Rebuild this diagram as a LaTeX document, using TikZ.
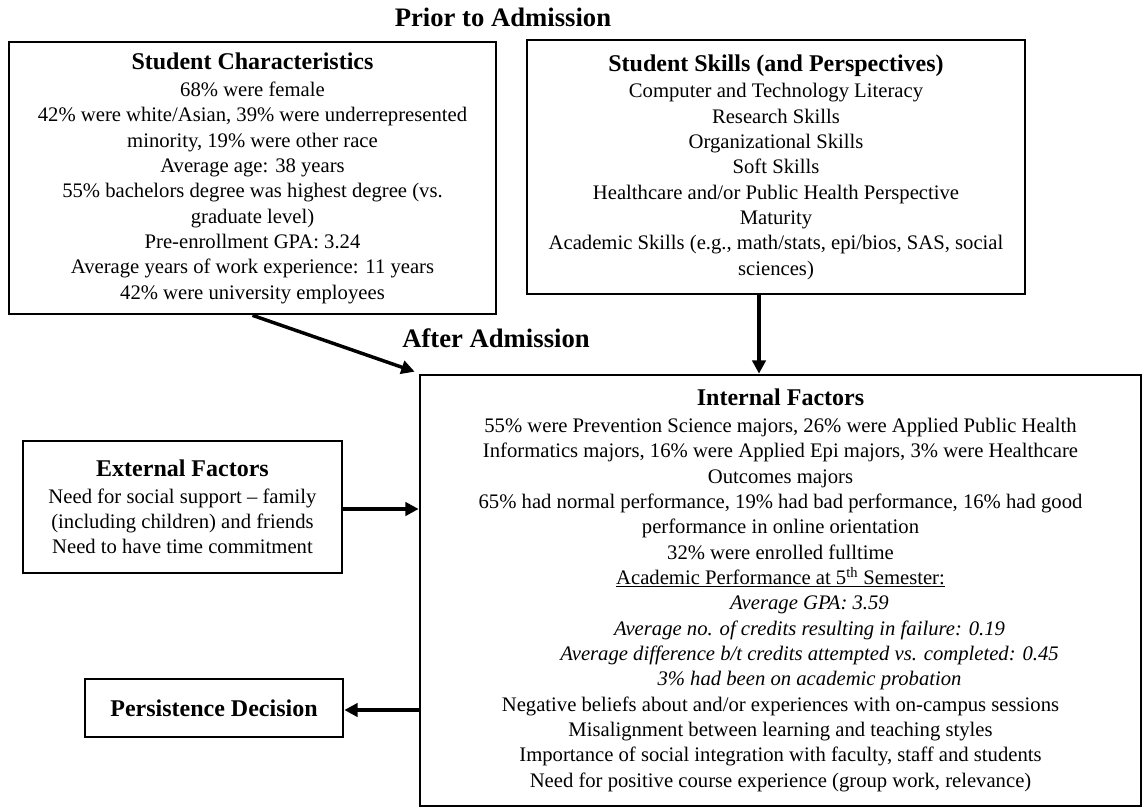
\documentclass[tikz,border=0pt]{standalone}
\usepackage{fontspec}
\setmainfont{Liberation Serif}
\usetikzlibrary{arrows.meta,calc}

\newcommand{\bodyfont}{\fontsize{15.5}{19}\selectfont}
\newcommand{\headfont}{\fontsize{18}{21}\selectfont\bfseries}
\newcommand{\phasefont}{\fontsize{20}{24}\selectfont\bfseries}
\newcommand{\ind}{\hspace*{43.5pt}}

\begin{document}
\begin{tikzpicture}[x=0.75pt,y=-0.75pt,
  box/.style={draw=black,line width=2pt,fill=white,align=center,
    font=\bodyfont,inner sep=0pt},
  phase/.style={font=\phasefont,inner sep=0pt},
  flow/.style={line width=2.6pt,-{Triangle[length=10pt,width=10pt]}}]

\useasboundingbox[fill=white] (0,0) rectangle (1144,809);

% phase headings
\node[phase] (prior) at (503,17) {Prior to Admission};
\node[phase] (after) at (496,338) {After Admission};

% boxes before admission
\node[box,minimum width=365.25pt,minimum height=204pt] (char) at (252.5,178)
  {{\headfont Student Characteristics}\\[1.5pt]
   68\% were female\\
   42\% were white/Asian, 39\% were underrepresented\\
   minority, 19\% were other race\\
   Average age: 38 years\\
   55\% bachelors degree was highest degree (vs.\\
   graduate level)\\
   Pre-enrollment GPA: 3.24\\
   Average years of work experience: 11 years\\
   42\% were university employees};

\node[box,minimum width=373.5pt,minimum height=190.5pt] (skills) at (776,167)
  {{\headfont Student Skills (and Perspectives)}\\[1pt]
   Computer and Technology Literacy\\
   Research Skills\\
   Organizational Skills\\
   Soft Skills\\
   Healthcare and/or Public Health Perspective\\
   Maturity\\
   Academic Skills (e.g., math/stats, epi/bios, SAS, social\\
   sciences)};

% boxes after admission
\node[box,minimum width=540.75pt,minimum height=323.25pt] (intf) at (780.5,590.5)
  {{\headfont Internal Factors}\\[1pt]
   55\% were Prevention Science majors, 26\% were Applied Public Health\\
   Informatics majors, 16\% were Applied Epi majors, 3\% were Healthcare\\
   Outcomes majors\\
   65\% had normal performance, 19\% had bad performance, 16\% had good\\
   performance in online orientation\\
   32\% were enrolled fulltime\\
   \underline{Academic Performance at 5\textsuperscript{th} Semester:}\\
   \ind\textit{Average GPA: 3.59}\\
   \ind\textit{Average no. of credits resulting in failure: 0.19}\\
   \ind\textit{Average difference b/t credits attempted vs. completed: 0.45}\\
   \ind\textit{3\% had been on academic probation}\\
   Negative beliefs about and/or experiences with on-campus sessions\\
   Misalignment between learning and teaching styles\\
   Importance of social integration with faculty, staff and students\\
   Need for positive course experience (group work, relevance)};

\node[box,minimum width=239.25pt,minimum height=99pt] (ext) at (182.5,507)
  {{\headfont External Factors}\\[1pt]
   Need for social support -- family\\
   (including children) and friends\\
   Need to have time commitment};

\node[box,minimum width=193.5pt,minimum height=43.5pt] (pers) at (214,708)
  {{\headfont Persistence Decision}};

% connector end points
\coordinate (skout) at ($(skills.south)+(-17,0)$);
\coordinate (extout) at ($(ext.east)+(0,2)$);
\coordinate (persin) at ($(pers.east)+(0,2)$);
\coordinate (intcorner) at ($(intf.north west)+(-4,-2)$);

% connectors
\draw[flow] (char.south) -- (intcorner);
\draw[flow] (skout) -- (skout |- intf.north);
\draw[flow] (extout) -- (extout -| intf.west);
\draw[flow] (persin -| intf.west) -- (persin);
\end{tikzpicture}
\end{document}
